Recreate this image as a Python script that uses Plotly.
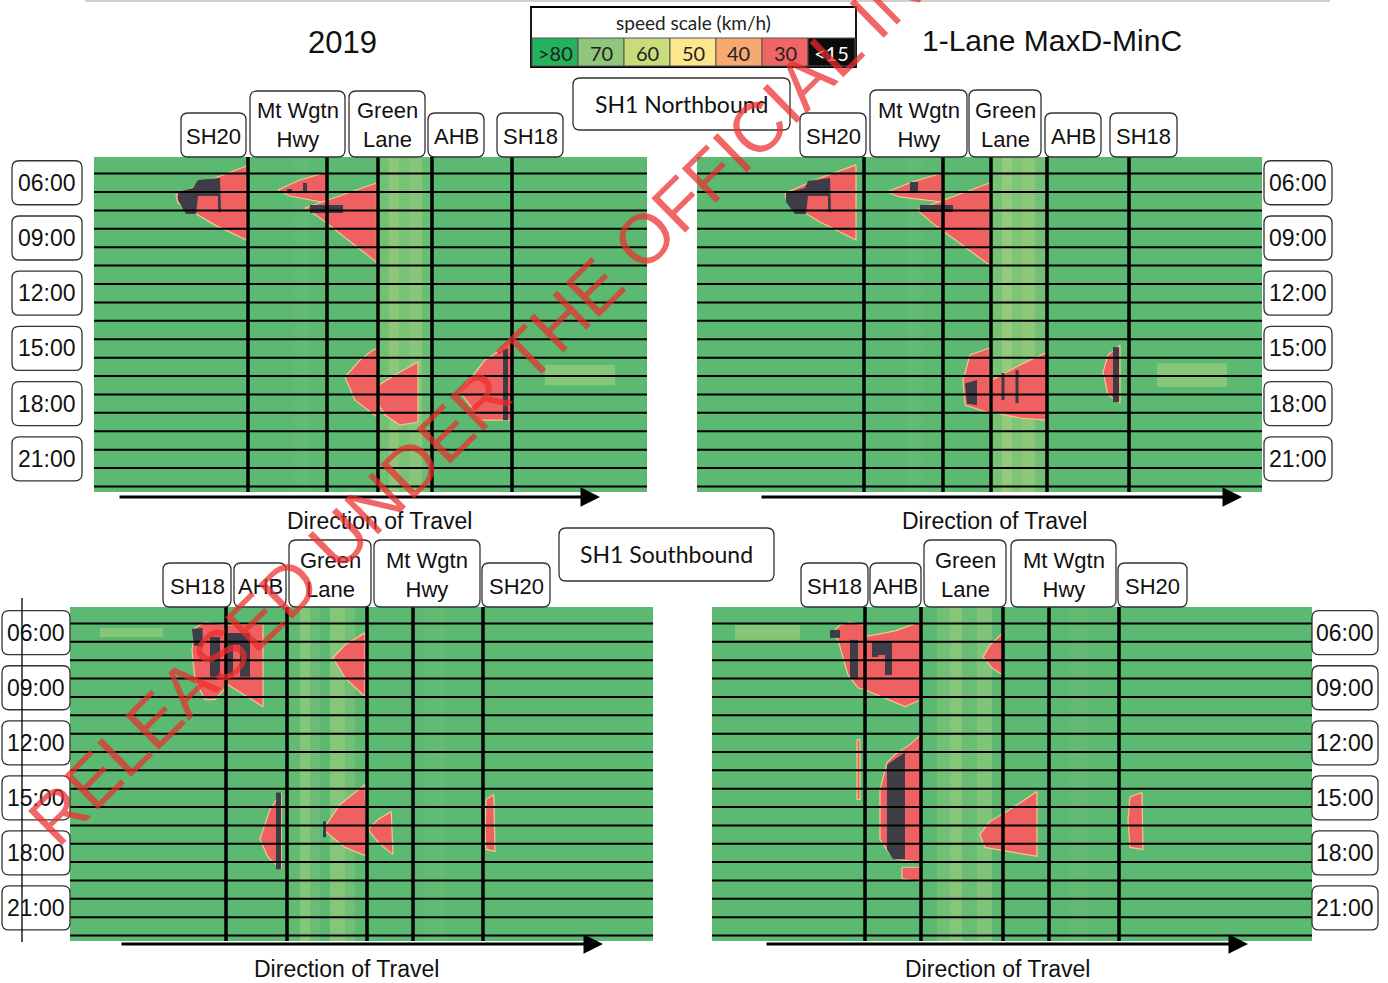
import plotly.graph_objects as go

W, H = 1388, 983

# ------------------------------------------------------------------ data
HOUR_MIN, HOUR_MAX = 4.6, 22.8
GRID_HOURS = [5.5, 6.5, 7.5, 8.5, 9.5, 10.5, 11.5, 12.5, 13.5, 14.5, 15.5,
              16.5, 17.5, 18.5, 19.5, 20.5, 21.5, 22.5]
TIME_LABELS = ["06:00", "09:00", "12:00", "15:00", "18:00", "21:00"]
TIME_HOURS = [6, 9, 12, 15, 18, 21]

SITES_NB = ["SH20", "Mt Wgtn<br>Hwy", "Green<br>Lane", "AHB", "SH18"]
SITES_SB = ["SH18", "AHB", "Green<br>Lane", "Mt Wgtn<br>Hwy", "SH20"]

LEGEND_LABELS = [">80", "70", "60", "50", "40", "30", "<15"]
LEGEND_COLORS = ["#22b35c", "#8fc67b", "#c9dc7b", "#fde68d", "#f6aa72", "#f06565", "#0b0b0b"]

# route length (km) shown in each panel
TL_LENGTH, TR_LENGTH, BL_LENGTH, BR_LENGTH = 22.12, 22.6, 23.32, 24.0

# site positions (km)
TL_MARKS = [6.16, 9.32, 11.36, 13.52, 16.72]
TR_MARKS = [6.68, 9.84, 11.76, 14.0, 17.28]
BL_MARKS = [6.24, 8.68, 11.88, 13.72, 16.52]
BR_MARKS = [6.12, 8.36, 11.64, 13.48, 16.28]

# background speed bands (km edges, km/h)
TL_EDGES = [0, 7.4, 8.0, 8.6, 9.4, 11.4, 11.8, 12.2, 12.6, 13.1, 13.6, 14.2, 22.12]
TL_SPEEDS = [84, 81, 79, 82, 84, 77, 73, 76, 74, 78, 80, 84]
TR_EDGES = [0, 7.8, 8.4, 9.0, 9.84, 11.8, 12.2, 12.6, 13.0, 13.5, 14.0, 14.6, 22.6]
TR_SPEEDS = [84, 81, 79, 82, 84, 76, 72, 75, 73, 77, 80, 84]
BL_EDGES = [0, 8.7, 9.2, 9.6, 10.0, 10.4, 11.0, 11.4, 11.9, 13.7, 14.2, 15.0, 15.6, 23.32]
BL_SPEEDS = [84, 79, 74, 78, 80, 74, 77, 80, 84, 81, 79, 81, 84]
BR_EDGES = [0, 8.36, 9.0, 9.5, 10.0, 10.6, 11.2, 11.64, 13.5, 14.3, 15.0, 24.0]
BR_SPEEDS = [84, 80, 77, 74, 78, 75, 80, 84, 81, 79, 84]

# slightly slower patches (~70 km/h): (km list, hour list)
TL_LIGHT = [([18.04, 20.84, 20.84, 18.04], [15.9, 15.9, 17.0, 17.0])]
TR_LIGHT = [([18.4, 21.2, 21.2, 18.4], [15.8, 15.8, 17.1, 17.1])]
BL_LIGHT = [([1.2, 3.72, 3.72, 1.2], [5.74, 5.74, 6.23, 6.23])]
BR_LIGHT = [([0.92, 3.52, 3.52, 0.92], [5.58, 5.58, 6.39, 6.39])]

# congested zones (~30 km/h)
TL_RED = [
    ([6.1, 4.84, 3.28, 3.36, 4.84, 6.1], [5.09, 5.74, 6.67, 7.10, 8.30, 9.11]),
    ([9.3, 8.24, 7.36, 7.84, 9.3], [5.42, 5.85, 6.39, 6.72, 7.10]),
    ([11.3, 9.84, 8.44, 9.04, 11.3], [6.01, 6.72, 7.37, 7.92, 10.31]),
    ([11.32, 11.16, 10.64, 10.04, 10.44, 11.32], [15.0, 15.09, 15.63, 16.56, 17.81, 18.73]),
    ([11.4, 12.24, 12.96, 12.96, 12.24, 11.64, 11.4], [16.99, 16.28, 15.74, 19.0, 19.17, 18.62, 18.08]),
    ([16.7, 15.64, 14.64, 15.04, 15.44, 16.7], [14.71, 15.63, 17.37, 18.08, 18.89, 18.89]),
]
TR_RED = [
    ([6.36, 4.92, 3.52, 3.6, 4.92, 6.36], [5.03, 5.74, 6.56, 7.05, 8.13, 9.11]),
    ([9.8, 8.6, 7.6, 8.12, 9.8], [5.47, 5.96, 6.50, 6.77, 7.05]),
    ([11.7, 10.12, 8.8, 9.52, 11.7], [6.01, 6.83, 7.48, 8.30, 10.47]),
    ([11.7, 10.92, 10.64, 10.72, 11.7], [14.98, 15.36, 16.72, 18.08, 18.51]),
    ([11.8, 12.92, 14.0, 14.0, 12.92, 11.8], [16.72, 15.90, 15.20, 18.89, 18.78, 18.46]),
    ([16.92, 16.44, 16.24, 16.44, 16.92], [14.82, 15.36, 16.28, 17.53, 17.97]),
]
BL_RED = [
    ([5.0, 5.4, 6.24, 7.72, 7.72, 6.32, 5.8, 5.4, 5.0, 4.88], [5.74, 5.42, 5.58, 5.52, 10.03, 8.84, 9.65, 9.65, 8.57, 6.94]),
    ([11.8, 11.0, 10.52, 11.0, 11.8], [6.01, 6.67, 7.37, 8.46, 9.49]),
    ([8.45, 8.0, 7.6, 7.92, 8.45], [14.71, 15.63, 17.26, 18.24, 18.89]),
    ([11.8, 10.8, 10.12, 11.0, 11.88], [14.27, 15.36, 16.72, 17.70, 18.19]),
    ([12.85, 12.32, 11.92, 12.4, 12.92], [15.74, 16.18, 16.72, 17.53, 18.08]),
    ([16.95, 16.64, 16.6, 16.64, 17.0], [14.82, 15.09, 16.72, 17.81, 17.92]),
]
BR_RED = [
    ([4.8, 5.12, 5.52, 6.12, 6.2, 7.32, 8.36, 8.36, 7.72, 6.12, 5.84, 5.44, 5.04],
     [6.01, 5.58, 5.42, 5.6, 6.2, 5.9, 5.4, 9.65, 10.03, 9.11, 9.0, 8.30, 6.39]),
    ([11.64, 11.12, 10.84, 11.2, 11.64], [6.01, 6.67, 7.32, 7.92, 8.30]),
    ([8.36, 7.92, 7.32, 7.0, 6.72, 6.72, 7.12, 7.4, 8.36], [11.56, 12.10, 12.64, 13.08, 14.55, 17.26, 18.08, 18.35, 18.51]),
    ([7.6, 8.36, 8.36, 7.6], [18.78, 18.78, 19.6, 19.4]),
    ([5.8, 5.92, 5.92, 5.8], [11.83, 11.83, 15.09, 15.09]),
    ([13.0, 11.92, 11.12, 10.72, 10.92, 13.0], [14.65, 15.63, 16.28, 16.99, 17.70, 18.19]),
    ([17.2, 16.72, 16.64, 16.72, 17.24], [14.71, 14.93, 16.18, 17.70, 17.81]),
]

# severe zones (<15 km/h)
TL_DARK = [
    ([3.36, 3.96, 4.16, 5.04, 5.08, 4.96, 4.96, 4.16, 4.08, 3.68, 3.36], [6.50, 6.28, 5.85, 5.74, 7.59, 7.59, 6.72, 6.72, 7.70, 7.70, 6.94]),
    ([7.72, 7.92, 7.92, 7.72], [6.34, 6.34, 6.56, 6.56]),
    ([8.36, 8.52, 8.52, 8.36], [6.01, 6.01, 6.50, 6.50]),
    ([8.64, 9.96, 9.96, 8.64], [7.21, 7.21, 7.64, 7.64]),
    ([16.36, 16.56, 16.56, 16.36], [15.1, 15.0, 18.9, 18.9]),
]
TR_DARK = [
    ([3.56, 4.32, 4.44, 5.32, 5.36, 5.24, 5.24, 4.44, 4.36, 3.92, 3.56], [6.56, 6.28, 5.90, 5.74, 7.59, 7.59, 6.72, 6.72, 7.70, 7.70, 7.05]),
    ([8.52, 8.84, 8.84, 8.52], [5.96, 5.96, 6.50, 6.50]),
    ([8.92, 10.24, 10.24, 8.92], [7.21, 7.21, 7.59, 7.59]),
    ([10.72, 11.2, 11.2, 10.8], [16.9, 16.72, 18.08, 18.0]),
    ([12.18, 12.3, 12.3, 12.18], [16.34, 16.34, 17.81, 17.81]),
    ([12.74, 12.86, 12.86, 12.74], [16.18, 16.18, 17.97, 17.97]),
    ([16.64, 16.88, 16.88, 16.64], [14.93, 14.93, 17.92, 17.92]),
]
BL_DARK = [
    ([4.88, 5.3, 5.32, 4.95], [5.8, 5.74, 6.77, 6.7]),
    ([5.6, 6.0, 6.0, 5.6], [6.23, 6.23, 8.40, 8.40]),
    ([6.32, 7.2, 7.2, 6.8, 6.8, 6.52, 6.52, 6.32], [6.01, 6.01, 8.40, 8.40, 6.67, 6.67, 8.30, 8.30]),
    ([8.24, 8.44, 8.44, 8.24], [14.71, 14.71, 18.89, 18.89]),
    ([10.12, 10.24, 10.24, 10.12], [16.28, 16.28, 17.15, 17.15]),
]
BR_DARK = [
    ([4.72, 5.12, 5.12, 4.72], [5.85, 5.85, 6.28, 6.28]),
    ([5.52, 5.84, 5.84, 5.52], [6.39, 6.39, 8.46, 8.46]),
    ([6.4, 7.2, 7.2, 6.92, 6.92, 6.64, 6.64, 6.4], [6.5, 6.5, 8.3, 8.3, 7.21, 7.21, 7.32, 7.32]),
    ([7.0, 7.72, 7.72, 7.24, 7.0], [13.19, 12.53, 18.35, 18.35, 17.81]),
]

SPEED_SCALE = [[0.0, "#3e3c46"], [0.15, "#3e3c46"], [0.2, "#ef6161"], [0.33, "#ef6161"],
               [0.42, "#f4a06e"], [0.5, "#f3dc8c"], [0.6, "#cddc84"], [0.7, "#a2cf7d"],
               [0.8, "#5cb972"], [1.0, "#5cb972"]]
RED, DARK, LIGHT = "#ef6161", "#3e3c46", "#86c679"

# ------------------------------------------------------------------ layout helpers
FONT = "Liberation Sans, Arial, sans-serif"
FONT2 = "Lato, Open Sans, sans-serif"


def P(px, py):
    return px / W, 1 - py / H


def rrect(x0, y0, x1, y1, r=7, fill="white", color="#333", width=1.3):
    def p(x, y):
        a, b = P(x, y)
        return f"{a:.5f},{b:.5f}"
    path = (f"M {p(x0 + r, y0)} L {p(x1 - r, y0)} Q {p(x1, y0)} {p(x1, y0 + r)} "
            f"L {p(x1, y1 - r)} Q {p(x1, y1)} {p(x1 - r, y1)} L {p(x0 + r, y1)} "
            f"Q {p(x0, y1)} {p(x0, y1 - r)} L {p(x0, y0 + r)} Q {p(x0, y0)} {p(x0 + r, y0)} Z")
    return dict(type="path", path=path, xref="paper", yref="paper",
                fillcolor=fill, line=dict(color=color, width=width), layer="above")


def text(px, py, s, size=22, family=FONT, color="#111", **kw):
    x, y = P(px, py)
    return dict(x=x, y=y, xref="paper", yref="paper", text=s, showarrow=False,
                xanchor="center", yanchor="middle",
                font=dict(size=size, family=family, color=color), **kw)


panels = [
    dict(box=(94, 157, 647, 492), length=TL_LENGTH, marks=TL_MARKS, edges=TL_EDGES, speeds=TL_SPEEDS,
         red=TL_RED, dark=TL_DARK, light=TL_LIGHT, sites=SITES_NB,
         site_boxes=[(181, 113, 246, 157), (250, 91, 345, 157), (349, 91, 425, 157), (428, 113, 484, 157), (497, 113, 563, 157)],
         label_x=(12, 82), arrow=(118, 600, 497), dir_text=(380, 521)),
    dict(box=(697, 157, 1262, 492), length=TR_LENGTH, marks=TR_MARKS, edges=TR_EDGES, speeds=TR_SPEEDS,
         red=TR_RED, dark=TR_DARK, light=TR_LIGHT, sites=SITES_NB,
         site_boxes=[(800, 113, 866, 157), (870, 90, 967, 157), (969, 90, 1041, 157), (1045, 113, 1101, 157), (1110, 113, 1177, 157)],
         label_x=(1264, 1332), arrow=(760, 1242, 497), dir_text=(994, 521)),
    dict(box=(70, 607, 653, 941), length=BL_LENGTH, marks=BL_MARKS, edges=BL_EDGES, speeds=BL_SPEEDS,
         red=BL_RED, dark=BL_DARK, light=BL_LIGHT, sites=SITES_SB,
         site_boxes=[(163, 563, 231, 607), (234, 563, 286, 607), (289, 540, 371, 607), (374, 540, 480, 607), (482, 563, 550, 607)],
         label_x=(2, 70), arrow=(120, 603, 944), dir_text=(346, 969)),
    dict(box=(712, 607, 1312, 941), length=BR_LENGTH, marks=BR_MARKS, edges=BR_EDGES, speeds=BR_SPEEDS,
         red=BR_RED, dark=BR_DARK, light=BR_LIGHT, sites=SITES_SB,
         site_boxes=[(801, 563, 868, 607), (870, 563, 921, 607), (924, 540, 1006, 607), (1011, 540, 1116, 607), (1118, 563, 1187, 607)],
         label_x=(1312, 1378), arrow=(765, 1248, 944), dir_text=(998, 969)),
]

fig = go.Figure()
shapes, annotations = [], []
layout_axes = {}

for i, pn in enumerate(panels):
    k = "" if i == 0 else str(i + 1)
    xa, ya = "x" + k, "y" + k
    x0, y0, x1, y1 = pn["box"]
    layout_axes["xaxis" + k] = dict(domain=[x0 / W, x1 / W], range=[0, pn["length"]], anchor=ya,
                                    visible=False, fixedrange=True)
    layout_axes["yaxis" + k] = dict(domain=[1 - y1 / H, 1 - y0 / H], range=[HOUR_MAX, HOUR_MIN], anchor=xa,
                                    visible=False, fixedrange=True)

    # background speed bands
    fig.add_trace(go.Heatmap(x=pn["edges"], y=[HOUR_MIN, HOUR_MAX], z=[pn["speeds"]],
                             zmin=0, zmax=100, colorscale=SPEED_SCALE, showscale=False,
                             hoverinfo="skip", xaxis=xa, yaxis=ya))

    def poly(xs, ys, fill, edge=None, ew=0):
        fig.add_trace(go.Scatter(x=list(xs) + [xs[0]], y=list(ys) + [ys[0]], mode="lines",
                                 fill="toself", fillcolor=fill,
                                 line=dict(color=edge or fill, width=ew),
                                 hoverinfo="skip", showlegend=False, xaxis=xa, yaxis=ya))

    for xs, ys in pn["light"]:
        poly(xs, ys, LIGHT)
    for xs, ys in pn["red"]:
        poly(xs, ys, RED, "#f3c98c", 1.2)
    for xs, ys in pn["dark"]:
        poly(xs, ys, DARK)

    # hour grid lines
    for h in GRID_HOURS:
        shapes.append(dict(type="line", xref=xa, yref=ya, x0=0, x1=pn["length"], y0=h, y1=h,
                           line=dict(color="black", width=2)))
    # site lines
    for m in pn["marks"]:
        shapes.append(dict(type="line", xref=xa, yref=ya, x0=m, x1=m, y0=HOUR_MIN, y1=HOUR_MAX,
                           line=dict(color="black", width=3.5)))
    # site boxes
    for (bx0, by0, bx1, by1), s in zip(pn["site_boxes"], pn["sites"]):
        shapes.append(rrect(bx0, by0, bx1, by1))
        annotations.append(text((bx0 + bx1) / 2, (by0 + by1) / 2 + 1, s, size=22))
    # time labels
    lx0, lx1 = pn["label_x"]
    for h, lab in zip(TIME_HOURS, TIME_LABELS):
        py = y0 + (h - HOUR_MIN) / (HOUR_MAX - HOUR_MIN) * (y1 - y0)
        shapes.append(rrect(lx0, py - 22, lx1, py + 22))
        annotations.append(dict(x=(lx0 + lx1) / 2 / W, y=h, xref="paper", yref=ya, text=lab,
                                showarrow=False, xanchor="center", yanchor="middle",
                                font=dict(size=23, family=FONT, color="#111")))
    # direction of travel arrow and text
    ax0, ax1, ay = pn["arrow"]
    hx, hy = P(ax1, ay)
    annotations.append(dict(x=hx, y=hy, xref="paper", yref="paper", text="", showarrow=True,
                            ax=-(ax1 - ax0), ay=0, axref="pixel", ayref="pixel",
                            arrowhead=2, arrowsize=1.3, arrowwidth=3, arrowcolor="black"))
    tx, ty = pn["dir_text"]
    annotations.append(text(tx, ty, "Direction of Travel", size=23))

# titles and route boxes
annotations.append(text(342, 42, "2019", size=31))
annotations.append(text(1052, 40, "1-Lane MaxD-MinC", size=30))
shapes.append(rrect(573, 78, 790, 130))
annotations.append(text(681, 104, "SH1 Northbound", size=23, family=FONT2))
shapes.append(rrect(559, 528, 774, 581))
annotations.append(text(666, 554, "SH1 Southbound", size=23, family=FONT2))

# speed legend
lx = [532, 578, 624, 670, 716, 762, 808, 855]
shapes.append(dict(type="rect", xref="paper", yref="paper", x0=P(531, 0)[0], x1=P(856, 0)[0],
                   y0=P(0, 67)[1], y1=P(0, 7)[1], fillcolor="white", line=dict(color="black", width=1.8)))
annotations.append(text(693, 22, "speed scale (km/h)", size=19, family=FONT2, color="#222"))
for j, (lab, col) in enumerate(zip(LEGEND_LABELS, LEGEND_COLORS)):
    shapes.append(dict(type="rect", xref="paper", yref="paper",
                       x0=P(lx[j], 0)[0], x1=P(lx[j + 1], 0)[0], y0=P(0, 66)[1], y1=P(0, 38)[1],
                       fillcolor=col, line=dict(color="#555", width=1)))
    annotations.append(text((lx[j] + lx[j + 1]) / 2, 53, lab, size=20, family=FONT2,
                            color="white" if lab == "<15" else "#222"))

# page artefacts
shapes.append(dict(type="line", xref="paper", yref="paper", x0=P(85, 0)[0], x1=P(1330, 0)[0],
                   y0=P(0, 1)[1], y1=P(0, 1)[1], line=dict(color="#cfcfcf", width=2)))
shapes.append(dict(type="line", xref="paper", yref="paper", x0=P(22, 0)[0], x1=P(22, 0)[0],
                   y0=P(0, 598)[1], y1=P(0, 942)[1], line=dict(color="black", width=1.3)))

# watermark
wx, wy = P(680, 204)
annotations.append(dict(x=wx, y=wy, xref="paper", yref="paper",
                        text="RELEASED UNDER THE OFFICIAL INFORMATION ACT", showarrow=False,
                        textangle=-44.5, xanchor="center", yanchor="middle",
                        font=dict(size=70, family=FONT, color="rgba(236,45,45,0.72)")))

fig.update_layout(width=W, height=H, margin=dict(l=0, r=0, t=0, b=0),
                  paper_bgcolor="white", plot_bgcolor="white", showlegend=False,
                  shapes=shapes, annotations=annotations, **layout_axes)

fig.write_html("out.html", config={"displayModeBar": False},
               post_script="document.body.style.margin='0px';document.body.style.overflow='hidden';")
